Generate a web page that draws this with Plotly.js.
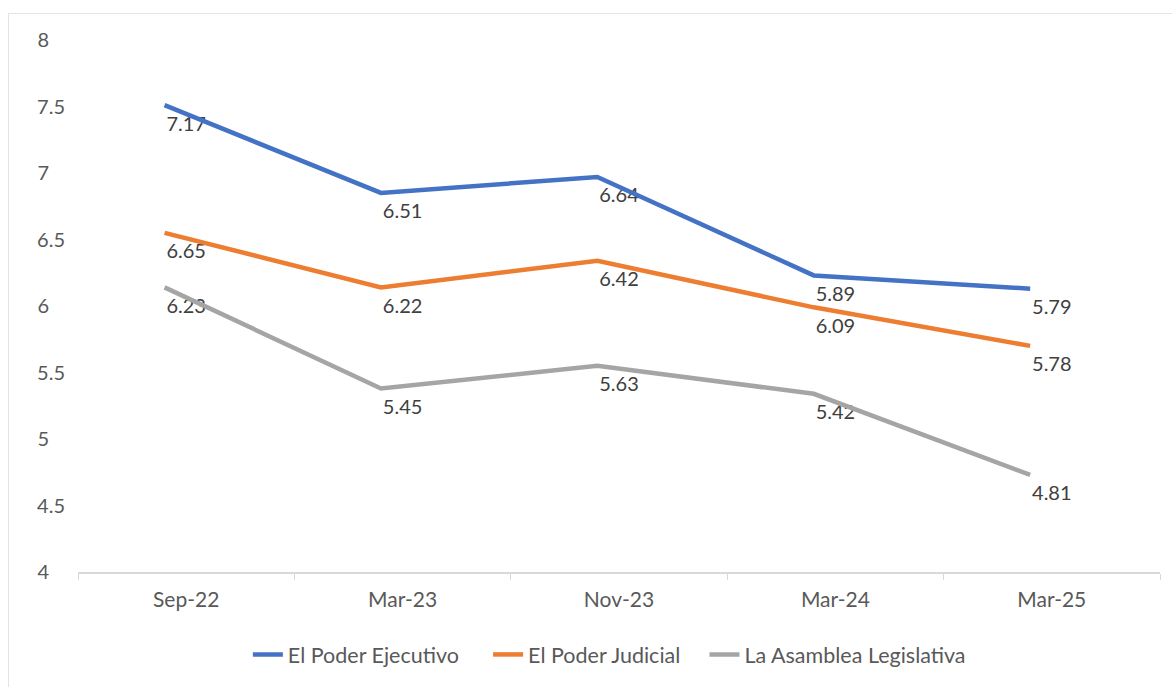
<!DOCTYPE html>
<html>
<head>
<meta charset="utf-8">
<script src="https://cdn.plot.ly/plotly-3.0.1.min.js"></script>
<style>
  html, body { margin: 0; padding: 0; background: #ffffff; }
  #wrap { position: relative; width: 1172px; height: 687px; overflow: hidden; }
  #chart { width: 1172px; height: 687px; }
  #frame { position: absolute; left: 8px; top: 13px; width: 1200px; height: 720px;
           border: 1px solid #e4e4e4; pointer-events: none; }
</style>
</head>
<body>
<div id="wrap">
  <div id="chart"></div>
  <div id="frame"></div>
</div>
<script>
// Categories (x axis)
const categories = ["Sep-22", "Mar-23", "Nov-23", "Mar-24", "Mar-25"];

// Series names
const seriesNames = ["El Poder Ejecutivo", "El Poder Judicial", "La Asamblea Legislativa"];

// Line positions as drawn in the picture
const ejecutivoLine  = [7.51, 6.85, 6.97, 6.23, 6.13];
const judicialLine   = [6.55, 6.14, 6.34, 5.99, 5.70];
const asambleaLine   = [6.14, 5.38, 5.55, 5.34, 4.73];

// Data labels as printed in the picture
const ejecutivoLabels = ["7.17", "6.51", "6.64", "5.89", "5.79"];
const judicialLabels  = ["6.65", "6.22", "6.42", "6.09", "5.78"];
const asambleaLabels  = ["6.23", "5.45", "5.63", "5.42", "4.81"];

// Y axis ticks
const yTickVals = [4, 4.5, 5, 5.5, 6, 6.5, 7, 7.5, 8];
const yTickText = yTickVals.map(v => Number.isInteger(v) ? v + "\u2008\u2007" : String(v));

const colors = ["#4472C4", "#ED7D31", "#A5A5A5"];
const lines = [ejecutivoLine, judicialLine, asambleaLine];
const labels = [ejecutivoLabels, judicialLabels, asambleaLabels];
const legendIds = ["legend", "legend2", "legend3"];
const legendX = [0.157, 0.379, 0.579];

const FONT = "Lato, 'Open Sans', 'DejaVu Sans', sans-serif";

const lineTraces = seriesNames.map((name, i) => ({
  type: "scatter",
  mode: "lines",
  name: name,
  legend: legendIds[i],
  x: categories,
  y: lines[i],
  line: { color: colors[i], width: 4.5 },
  xaxis: "x2",
  yaxis: "y",
  hoverinfo: "x+y+name"
}));

const labelTraces = seriesNames.map((name, i) => ({
  type: "scatter",
  mode: "markers+text",
  name: name + " (etiquetas)",
  x: categories,
  y: lines[i],
  text: labels[i],
  textposition: "bottom center",
  textfont: { family: FONT, size: 20, color: "#404040" },
  marker: { size: 15, color: "rgba(0,0,0,0)" },
  xaxis: "x",
  yaxis: "y",
  showlegend: false,
  hoverinfo: "skip",
  cliponaxis: false
}));

function legendAt(x) {
  return {
    orientation: "h",
    x: x, xanchor: "left",
    y: -0.155, yanchor: "middle",
    bgcolor: "rgba(0,0,0,0)",
    font: { family: FONT, size: 21.5, color: "#595959" }
  };
}

const layout = {
  width: 1172,
  height: 687,
  margin: { l: 78, r: 12, t: 40, b: 113 },
  paper_bgcolor: "#ffffff",
  plot_bgcolor: "#ffffff",
  font: { family: FONT, size: 20, color: "#595959" },
  showlegend: true,
  legend: legendAt(legendX[0]),
  legend2: legendAt(legendX[1]),
  legend3: legendAt(legendX[2]),
  xaxis: {
    type: "category",
    categoryarray: categories,
    range: [-0.5, 4.5],
    showgrid: false,
    zeroline: false,
    showline: true,
    linecolor: "#d9d9d9",
    linewidth: 1.5,
    ticks: "outside",
    tickson: "boundaries",
    ticklen: 6,
    tickcolor: "#d9d9d9",
    tickfont: { family: FONT, size: 21, color: "#595959" },
    ticklabelstandoff: 8,
    fixedrange: true
  },
  xaxis2: {
    type: "category",
    categoryarray: categories,
    overlaying: "x",
    range: [-0.4, 4.6],
    visible: false,
    fixedrange: true
  },
  yaxis: {
    range: [4, 8],
    tickvals: yTickVals,
    ticktext: yTickText,
    showgrid: false,
    zeroline: false,
    showline: false,
    ticks: "",
    tickfont: { family: FONT, size: 20, color: "#595959" },
    ticklabelstandoff: 12,
    fixedrange: true
  }
};

Plotly.newPlot("chart", lineTraces.concat(labelTraces), layout, { displayModeBar: false });
</script>
</body>
</html>
